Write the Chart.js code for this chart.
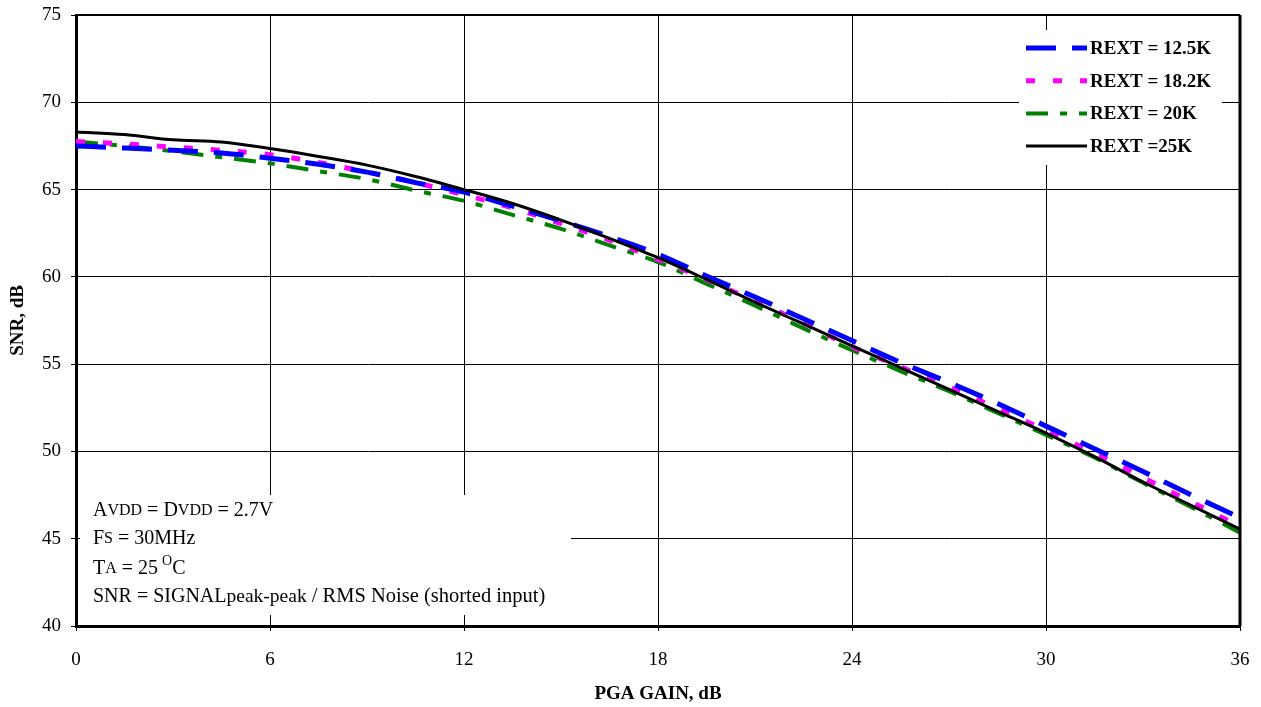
<!DOCTYPE html>
<html>
<head>
<meta charset="utf-8">
<script src="https://cdn.jsdelivr.net/npm/chart.js@4"></script>
<style>
	html, body { margin: 0; padding: 0; background: #fff; }
	#wrap { width: 1261px; height: 707px; }
</style>
</head>
<body>
<div id="wrap"><canvas id="chart"></canvas></div>
<script>
/* ==========================================================================
 Data
 ========================================================================== */

const gain = [0, 1.5, 3, 4.5, 6, 7.5, 9, 10.5, 12, 13.5, 15, 16.5, 18,
	19.5, 21, 22.5, 24, 25.5, 27, 28.5, 30, 31.5, 33, 34.5, 36];

const rext125 = [67.5, 67.38, 67.25, 67.1, 66.8, 66.45, 66.0, 65.4, 64.85, 64.05, 63.2, 62.3, 61.3,
	60.05, 58.85, 57.6, 56.35, 55.1, 53.95, 52.75, 51.45, 50.15, 48.85, 47.5, 46.2];
const rext182 = [67.75, 67.62, 67.43, 67.25, 67.0, 66.55, 66.0, 65.4, 64.7, 63.95, 63.05, 62.1, 61.0,
	59.85, 58.6, 57.35, 56.0, 54.85, 53.7, 52.45, 51.2, 49.9, 48.5, 47.1, 45.7];
const rext20 = [67.75, 67.5, 67.2, 66.85, 66.5, 66.05, 65.6, 64.95, 64.35, 63.55, 62.75, 61.8, 60.85,
	59.6, 58.35, 57.05, 55.8, 54.6, 53.45, 52.2, 50.95, 49.65, 48.2, 46.8, 45.35];
const rext25 = [68.3, 68.15, 67.85, 67.72, 67.35, 66.9, 66.4, 65.75, 65.0, 64.2, 63.25, 62.2, 61.1,
	59.85, 58.55, 57.3, 56.05, 54.8, 53.55, 52.3, 51.05, 49.7, 48.25, 46.9, 45.55];

const seriesLabels = ['REXT = 12.5K', 'REXT = 18.2K', 'REXT = 20K', 'REXT =25K'];
const xTicks = [0, 6, 12, 18, 24, 30, 36];
const yTicks = [40, 45, 50, 55, 60, 65, 70, 75];

const serif = "'Liberation Serif', 'Times New Roman', serif";

/* ==========================================================================
 Helpers
 ========================================================================== */

const toPoints = values => values.map((v, i) => ({x: gain[i], y: v}));

// draws a run of text pieces with different sizes, returns end x
function drawRuns(ctx, runs, x, y) {
	runs.forEach(r => {
		ctx.font = r.size + 'px ' + serif;
		ctx.fillText(r.t, x, y + (r.dy || 0));
		x += ctx.measureText(r.t).width + (r.gap || 0);
	});
	return x;
}

/* ==========================================================================
 Boxes: legend + conditions note
 ========================================================================== */

const legendBox = {x: 1019, y: 30, w: 203, h: 135};
const noteBox = {x: 80, y: 495, w: 491, h: 120};

const boxesPlugin = {
	id: 'boxes',
	beforeDatasetsDraw(chart) {
		const ctx = chart.ctx;
		ctx.save();
		ctx.fillStyle = '#fff';
		ctx.fillRect(legendBox.x, legendBox.y, legendBox.w, legendBox.h);
		ctx.fillRect(noteBox.x, noteBox.y, noteBox.w, noteBox.h);
		ctx.restore();
	},
	afterDatasetsDraw(chart) {
		const ctx = chart.ctx;
		const a = chart.chartArea;
		ctx.save();

		// frame
		ctx.strokeStyle = '#000';
		ctx.lineWidth = 2;
		ctx.beginPath();
		ctx.moveTo(a.left, a.top);
		ctx.lineTo(a.right, a.top);
		ctx.stroke();
		ctx.lineWidth = 3;
		ctx.beginPath();
		ctx.moveTo(a.right, a.top);
		ctx.lineTo(a.right, a.bottom);
		ctx.stroke();

		// legend
		ctx.textBaseline = 'middle';
		ctx.fillStyle = '#000';
		chart.data.datasets.forEach((ds, i) => {
			const y = 48 + i * 32.7;
			ctx.strokeStyle = ds.borderColor;
			ctx.lineWidth = ds.borderWidth;
			ctx.setLineDash(ds.borderDash || []);
			ctx.beginPath();
			ctx.moveTo(1026, y);
			ctx.lineTo(1087, y);
			ctx.stroke();
			ctx.setLineDash([]);
			ctx.font = 'bold 19px ' + serif;
			ctx.fillText(seriesLabels[i], 1090, y + 1);
		});

		// conditions note
		const x0 = 93;
		drawRuns(ctx, [{t: 'A', size: 20}, {t: 'VDD', size: 16}, {t: ' = D', size: 20}, {t: 'VDD', size: 16}, {t: ' = 2.7V', size: 20}], x0, 511);
		drawRuns(ctx, [{t: 'F', size: 20}, {t: 'S', size: 16}, {t: ' = 30MHz', size: 20}], x0, 539);
		const xe = drawRuns(ctx, [{t: 'T', size: 20}, {t: 'A', size: 16}, {t: ' = 25 ', size: 20}], x0, 569);
		drawRuns(ctx, [{t: 'O', size: 14, dy: -8}, {t: 'C', size: 20}], xe - 1, 569);
		drawRuns(ctx, [{t: 'SNR = SIGNAL', size: 20}, {t: 'peak-peak', size: 19.5}, {t: ' / RMS Noise (shorted input)', size: 20.5}], x0, 597);

		ctx.restore();
	}
};

/* ==========================================================================
 Config
 ========================================================================== */

const data = {
	datasets: [
		{
			label: seriesLabels[0],
			data: toPoints(rext125),
			borderColor: '#0000ff',
			borderWidth: 5,
			borderDash: [30, 16],
			order: 2,
		},
		{
			label: seriesLabels[1],
			data: toPoints(rext182),
			borderColor: '#ff00ff',
			borderWidth: 5,
			borderDash: [9, 18],
			order: 3,
		},
		{
			label: seriesLabels[2],
			data: toPoints(rext20),
			borderColor: '#008000',
			borderWidth: 4,
			borderDash: [22, 12, 7, 12],
			order: 4,
		},
		{
			label: seriesLabels[3],
			data: toPoints(rext25),
			borderColor: '#000000',
			borderWidth: 3,
			order: 1,
		},
	],
};

const config = {
	type: 'line',
	data: data,
	options: {
		responsive: true,
		maintainAspectRatio: false,
		animation: false,
		layout: {
			padding: {top: 15, right: 21, left: 0, bottom: 0},
		},
		elements: {
			point: {radius: 0},
			line: {cubicInterpolationMode: 'monotone', fill: false, borderCapStyle: 'butt'},
		},
		scales: {
			x: {
				type: 'linear',
				min: 0,
				max: 36,
				afterBuildTicks(scale) {
					scale.ticks = xTicks.map(v => ({value: v}));
				},
				afterFit(scale) {
					scale.height = 81;
					scale.paddingLeft = 0;
					scale.paddingRight = 0;
				},
				ticks: {
					color: '#000',
					padding: 18,
					maxRotation: 0,
					font: {size: 19, family: serif},
				},
				grid: {
					color: '#000',
					lineWidth: 1,
					tickLength: 5,
				},
				border: {color: '#000', width: 3},
				title: {
					display: true,
					text: 'PGA GAIN, dB',
					color: '#000',
					padding: {top: 0, bottom: 2},
					font: {size: 19, weight: 'bold', family: serif},
				},
			},
			y: {
				min: 40,
				max: 75,
				afterBuildTicks(scale) {
					scale.ticks = yTicks.map(v => ({value: v}));
				},
				afterFit(scale) {
					scale.width = 76;
					scale.paddingTop = 0;
					scale.paddingBottom = 0;
				},
				ticks: {
					color: '#000',
					padding: 10,
					font: {size: 19, family: serif},
				},
				grid: {
					color: '#000',
					lineWidth: 1,
					tickLength: 5,
				},
				border: {color: '#000', width: 3},
				title: {
					display: true,
					text: 'SNR, dB',
					color: '#000',
					padding: {top: 7, bottom: 0},
					font: {size: 19, weight: 'bold', family: serif},
				},
			},
		},
		plugins: {
			legend: {display: false},
			tooltip: {enabled: false},
		},
	},
	plugins: [boxesPlugin],
};

/* ==========================================================================
 Render
 ========================================================================== */

const myChart = new Chart(document.getElementById('chart'), config);
</script>
</body>
</html>
